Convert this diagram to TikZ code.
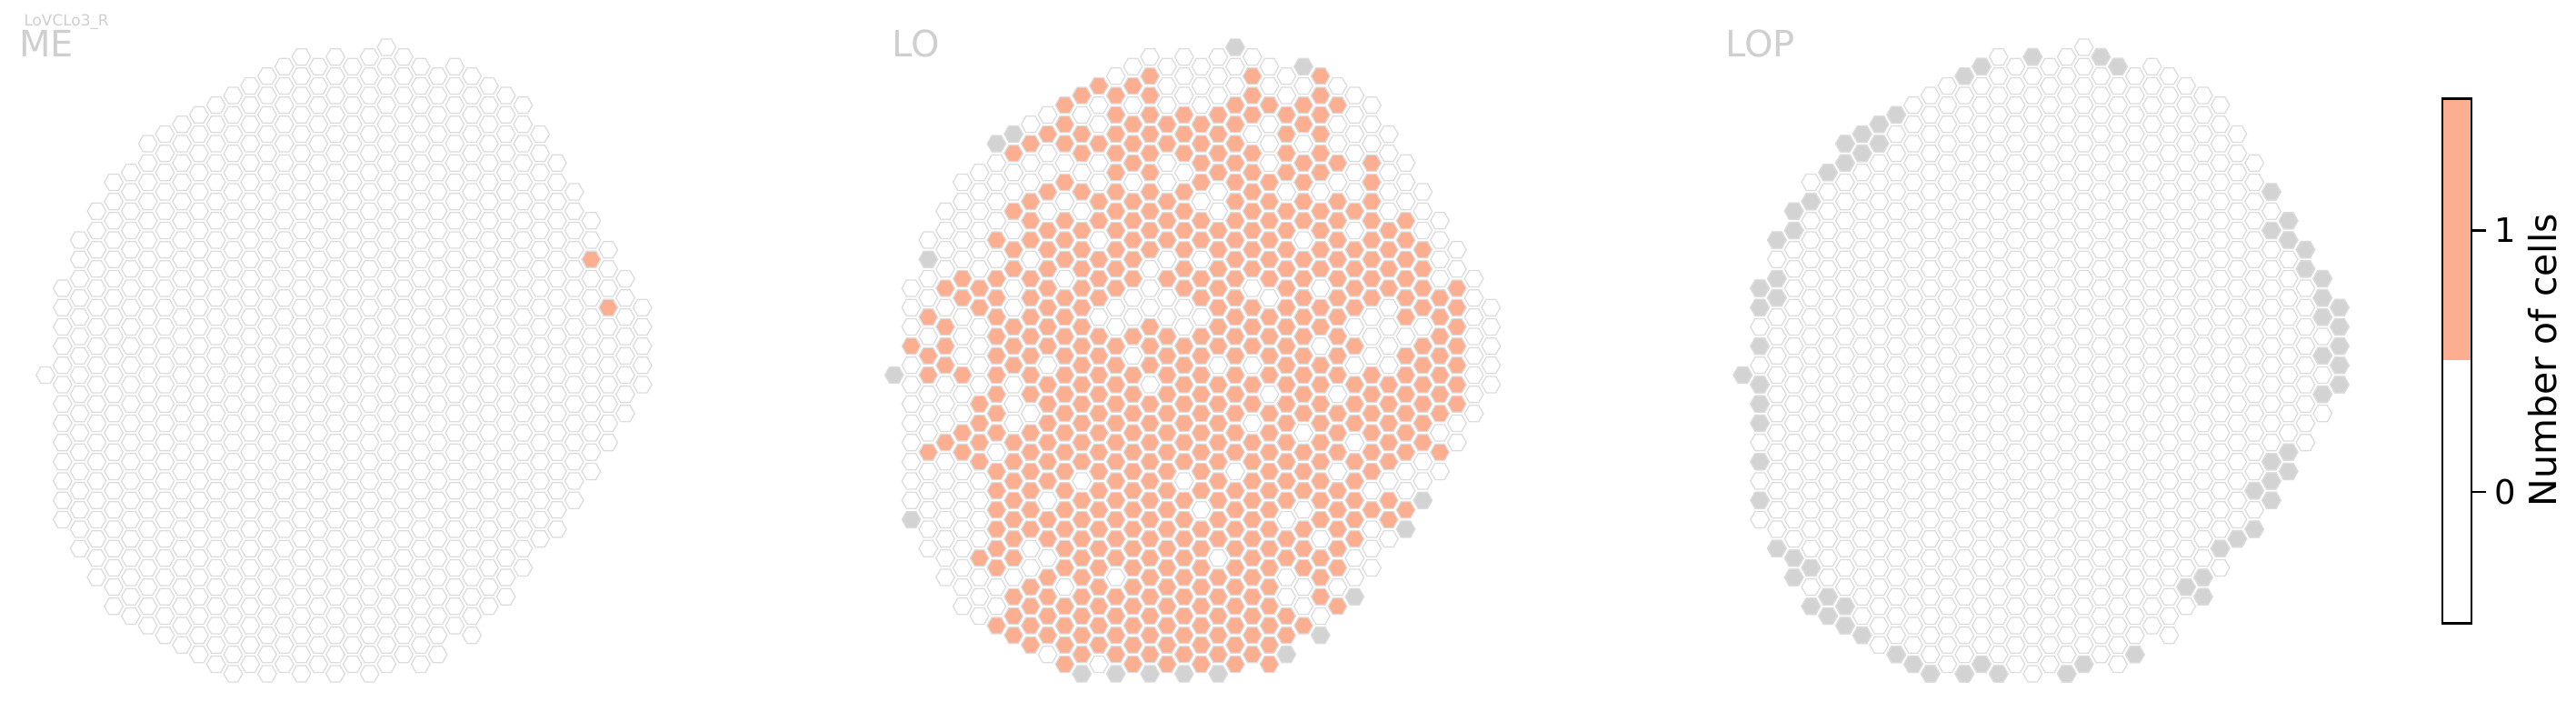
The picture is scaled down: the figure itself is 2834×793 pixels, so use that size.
\documentclass[tikz,border=0pt]{standalone}
\usepackage{fontspec}
\setmainfont{DejaVu Sans}
\definecolor{cW}{HTML}{FFFFFF}
\definecolor{cO}{HTML}{FCAE91}
\definecolor{cG}{HTML}{D3D3D3}
\definecolor{hexline}{HTML}{DCDCDC}
\definecolor{lblgray}{HTML}{CFCFCF}
\tikzset{
  hexcell/.style={draw=hexline, line width=1.3pt},
  panellabel/.style={text=lblgray, anchor=base west, inner sep=0pt, font=\fontsize{40}{48}\selectfont},
  barframe/.style={draw=black, line width=2.6pt},
}
\newcommand\hexat[4]{%
  \pgfmathsetmacro\hx{#1+18.76*#2}%
  \pgfmathsetmacro\hy{52+10.6*#3}%
  \path[hexcell, fill=#4, shift={(\hx,\hy)}] (-10.3,0) -- (-5.15,-9) -- (5.15,-9) -- (10.3,0) -- (5.15,9) -- (-5.15,9) -- cycle;%
}
\def\shapelist{0/34/34,1/25/49,2/20/52,3/17/55,4/14/58,5/13/59,6/10/60,7/9/61,8/8/62,9/7/63,10/6/64,11/5/65,12/4/64,13/3/65,14/2/64,15/1/65,16/2/64,17/1/65,18/2/64,19/1/65,20/0/64,21/1/63,22/2/64,23/3/63,24/2/60,25/3/61,26/4/58,27/5/57,28/6/54,29/9/51,30/12/50,31/15/47,32/18/44,33/21/41,34/24/38,35/27/35}
\def\lolist{%
0/34/{G},
1/25/{W,W,W,O,W, W,W,W,W,W, W,W,G},
2/20/{W,G,W,W,O, W,O,O,W,W, W,O,W,W,W, W,W},
3/17/{W,W,W,W,O, W,O,O,O,W, W,W,O,W,W, W,W,W,W,W},
4/14/{W,W,W,W,W, O,O,W,W,W, O,W,W,O,O, W,W,W,W,W, W,W,W},
5/13/{W,W,W,W,W, W,O,O,W,W, W,W,O,O,O, O,W,W,W,W, O,W,W,W},
6/10/{G,W,W,W,W, O,W,O,O,O, O,O,O,O,O, O,W,O,O,O, O,O,O,W,W, O},
7/9/{G,O,W,W,O, W,O,O,W,W, O,O,O,W,W, W,O,O,O,O, O,O,O,W,O, O,O},
8/8/{W,O,W,W,O, O,O,W,O,O, O,O,O,O,O, W,O,O,O,O, O,O,W,W,O, O,O,O},
9/7/{W,O,W,W,O, W,O,O,O,O, O,O,O,W,O, O,O,O,O,O, W,O,O,W,O, O,O,O,W},
10/6/{O,O,O,W,O, W,O,O,O,W, O,O,O,O,O, O,O,O,O,O, O,O,O,O,O, W,O,O,O,O},
11/5/{O,W,O,O,W, O,W,O,O,O, O,O,O,O,O, O,O,O,O,O, W,O,O,O,O, O,O,O,O,O, G},
12/4/{O,W,W,O,W, W,O,O,W,O, O,O,W,O,O, O,O,O,O,O, O,O,O,O,O, O,O,O,O,O, W},
13/3/{W,O,O,O,O, O,O,O,O,O, O,O,W,W,O, O,O,O,O,O, O,O,O,O,O, O,W,O,O,O, O,G},
14/2/{W,O,W,O,O, O,W,O,O,O, O,O,W,W,O, W,O,O,O,O, O,O,O,O,O, O,O,O,O,O, O,O},
15/1/{W,O,O,O,O, O,O,O,O,O, O,W,W,W,O, O,O,W,O,O, O,O,O,O,O, O,O,O,O,O, O,O,G},
16/2/{W,W,W,O,O, W,W,O,O,O, W,O,W,W,O, O,O,O,O,O, O,O,O,O,O, O,O,O,O,O, O,O},
17/1/{W,W,W,O,O, O,W,O,O,O, O,O,O,W,W, O,O,O,O,O, O,O,W,O,O, O,O,O,O,O, O,O,G},
18/2/{W,W,W,O,O, O,O,W,O,O, W,O,O,W,O, O,O,O,O,O, O,O,O,W,O, O,O,O,O,O, O,O},
19/1/{W,W,W,O,O, O,O,W,W,O, O,O,O,O,O, O,W,O,O,O, O,O,O,O,O, O,W,O,O,O, O,O,G},
20/0/{G,W,W,O,O, O,O,O,O,O, O,O,O,O,O, O,O,O,O,O, O,O,W,O,O, O,O,O,O,O, O,O,O},
21/1/{W,O,O,O,W, O,O,O,O,O, O,O,W,O,O, O,W,O,O,W, O,O,O,O,O, O,O,O,O,O, O,O},
22/2/{W,W,O,W,W, W,O,O,O,O, O,O,W,O,O, O,O,W,O,O, O,O,O,O,O, O,O,O,O,O, O,O},
23/3/{W,W,O,O,O, O,W,O,O,O, O,O,O,O,O, O,O,O,O,O, O,O,O,W,O, O,W,W,O,O, G},
24/2/{G,W,O,O,W, O,O,O,O,W, O,O,O,O,O, O,O,O,O,W, O,O,O,W,O, O,O,W,W,O},
25/3/{O,O,O,O,O, O,W,O,O,O, O,W,O,O,W, O,O,O,O,O, O,O,O,O,W, O,O,O,W,G},
26/4/{W,O,W,W,O, W,O,O,O,O, O,O,O,O,O, O,W,O,O,O, W,O,O,O,O, O,W,O},
27/5/{W,W,W,W,W, W,O,W,O,O, O,O,W,O,W, O,O,O,W,O, O,O,O,O,W, W,G},
28/6/{W,W,W,O,O, O,O,O,O,O, O,W,W,W,O, O,O,O,O,O, W,O,W,W,W},
29/9/{W,W,W,W,W, O,O,O,O,W, W,W,W,O,O, O,O,O,W,O, O,W},
30/12/{W,W,W,O,O, O,O,O,O,W, O,O,O,O,O, O,W,W,O,G},
31/15/{W,W,W,O,O, O,O,W,O,O, O,O,O,O,W, W,G},
32/18/{W,W,W,W,O, O,O,O,O,O, O,W,O,W},
33/21/{W,W,O,O,O, O,O,O,O,W, W},
34/24/{W,W,W,W,W, W,W,W},
35/27/{W,W,W,W,W}}
\def\lopgray{17/1,21/1,14/2,22/2,13/3,9/7,8/8,7/9,6/10,8/10,7/11,6/12,5/13,4/16,3/17,3/19,2/20,2/24,1/25,2/26,1/27,1/31,0/34,31/15,32/18,31/19,32/20,33/21,33/23,34/24,34/26,35/27,34/28,35/29,35/31,34/32,35/33,1/35,1/37,1/39,1/43,1/47,2/52,3/53,4/54,3/55,5/57,4/58,6/58,5/59,6/60,7/61,9/63,10/64,11/65,13/65,14/64,15/65,19/65,20/64,23/63,35/35,34/36,32/42,31/43,32/44,31/45,30/46,31/47,30/50,29/51,28/52,27/55,26/56,27/57}
\begin{document}
\begin{tikzpicture}[x=1pt,y=-1pt]
\useasboundingbox (0,0) rectangle (2834,793);
% ---------- ME panel ----------
\foreach \c/\t/\b in \shapelist {
  \pgfmathtruncatemacro\nn{(\b-\t)/2}
  \foreach \k in {0,...,\nn} {
    \pgfmathtruncatemacro\hh{\t+2*\k}
    \hexat{50.1}{\c}{\hh}{cW}
  }
}
\hexat{50.1}{32}{22}{cO}
\hexat{50.1}{33}{27}{cO}
% ---------- LO panel ----------
\foreach \c/\t/\lst in \lolist {
  \foreach \k [count=\i from 0] in \lst {
    \pgfmathtruncatemacro\hh{\t+2*\i}
    \edef\cc{c\k}
    \hexat{983.75}{\c}{\hh}{\cc}
  }
}
% ---------- LOP panel ----------
\foreach \c/\t/\b in \shapelist {
  \pgfmathtruncatemacro\nn{(\b-\t)/2}
  \foreach \k in {0,...,\nn} {
    \pgfmathtruncatemacro\hh{\t+2*\k}
    \hexat{1917.3}{\c}{\hh}{cW}
  }
}
\foreach \c/\h in \lopgray {
  \hexat{1917.3}{\c}{\h}{cG}
}
% ---------- labels ----------
\node[text=lblgray, anchor=base west, inner sep=0pt, font=\fontsize{16.9}{20}\selectfont] (cellname) at (26.3,28) {LoVCLo3\_R};
\node[panellabel] (melabel) at (21,62) {ME};
\node[panellabel] (lolabel) at (981,62) {LO};
\node[panellabel] (loplabel) at (1898,62) {LOP};
% ---------- colour bar ----------
\fill[cO] (2687,108.6) rectangle (2719,396);
\path[barframe] (2687,108.6) rectangle (2719,685.5);
\coordinate (t1a) at (2719,253.5);
\coordinate (t1b) at (2735,253.5);
\coordinate (t0a) at (2719,541);
\coordinate (t0b) at (2735,541);
\draw[line width=2.6pt] (t1a) -- (t1b);
\draw[line width=2.6pt] (t0a) -- (t0b);
\node[anchor=west, inner sep=0pt, font=\fontsize{37}{44}\selectfont] (tick1) at (2744,253.5) {1};
\node[anchor=west, inner sep=0pt, font=\fontsize{37}{44}\selectfont] (tick0) at (2744,541) {0};
\node[rotate=90, inner sep=0pt, font=\fontsize{41}{48}\selectfont] (barlabel) at (2797.5,396) {Number of cells};
\end{tikzpicture}
\end{document}
